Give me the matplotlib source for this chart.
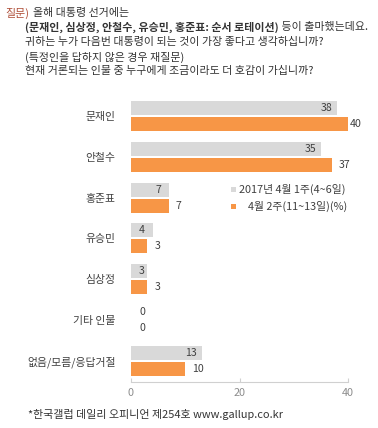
import matplotlib
matplotlib.use("Agg")
import matplotlib.pyplot as plt
from matplotlib.patches import Rectangle

plt.rcParams["font.family"] = ["Noto Sans CJK KR", "DejaVu Sans"]

# 데이터
categories = ["문재인", "안철수", "홍준표", "유승민", "심상정", "기타 인물", "없음/모름/응답거절"]
week1 = [38, 35, 7, 4, 3, 0, 13]
week2 = [40, 37, 7, 3, 3, 0, 10]
series_labels = ["2017년 4월 1주(4~6일)", "4월 2주(11~13일)(%)"]
x_ticks = [0, 20, 40]

W, H = 378, 428
GRAY = "#d9d9d9"
ORANGE = "#f79646"
TXT = "#404040"
FS = 7.8   # 항목/범례
VFS = 7.6  # 값 라벨
TFS = 7.9  # 질문 문구


def fx(px):
    return px / W


def fy(py):
    return 1 - py / H


fig = plt.figure(figsize=(W / 100, H / 100), dpi=100)
fig.patch.set_facecolor("white")

# 플롯 영역: x=0 -> 131px, x=40 -> 348px, 그룹 간격 약 40.8px
x0, x1 = 131, 348
step = 40.83
c0 = 116
ytop, ybot = -0.45, 6.515
top_px = c0 + ytop * step
bot_px = c0 + ybot * step
ax = fig.add_axes([fx(x0), fy(bot_px), (x1 - x0) / W, (bot_px - top_px) / H])
ax.set_xlim(0, 40)
ax.set_ylim(ybot, ytop)

bh = 14 / step
off = 8 / step
pos = list(range(len(categories)))
ax.barh([p - off for p in pos], week1, height=bh, color=GRAY)
ax.barh([p + off for p in pos], week2, height=bh, color=ORANGE)

ppu = (x1 - x0) / 40.0  # 단위당 픽셀
for p, v1, v2 in zip(pos, week1, week2):
    # 회색 막대: 안쪽 끝 (최소 위치 제한)
    cx = max(v1 * ppu - 10.5, 11) / ppu
    ax.text(cx, p - off, str(v1), ha="center", va="center", fontsize=VFS, color=TXT)
    # 주황 막대: 바깥쪽
    if v2 == 0:
        ax.text(11 / ppu, p + off, str(v2), ha="center", va="center", fontsize=VFS, color=TXT)
    else:
        lx = min(v2 * ppu + 7, 219) / ppu
        ax.text(lx, p + off, str(v2), ha="left", va="center", fontsize=VFS, color=TXT)

ax.set_yticks(pos)
ax.set_yticklabels(categories, fontsize=FS, color=TXT)
ax.tick_params(axis="y", length=0, pad=11)
ax.set_xticks(x_ticks)
ax.tick_params(axis="x", direction="in", length=3, color="#d0d0d0",
               labelsize=FS, labelcolor="#8c8c8c", pad=4)
for s in ["top", "right", "left"]:
    ax.spines[s].set_visible(False)
ax.spines["bottom"].set_color("#d0d0d0")
ax.spines["bottom"].set_linewidth(0.8)

# 범례
for (ly, col, lab, tx) in [(187, GRAY, series_labels[0], 239), (204, ORANGE, series_labels[1], 248)]:
    fig.add_artist(Rectangle((fx(231), fy(ly + 5)), 5 / W, 5 / H,
                             transform=fig.transFigure, color=col, lw=0))
    fig.text(fx(tx), fy(ly + 2.5), lab, fontsize=FS, color=TXT, va="center", ha="left")

# 질문 문구
fig.text(fx(5), fy(13), "질문)", fontsize=TFS, color="#b0503a", va="center")
fig.text(fx(33), fy(13), "올해 대통령 선거에는", fontsize=TFS, color="#333333", va="center")
t2 = fig.text(fx(25), fy(27), "(문재인, 심상정, 안철수, 유승민, 홍준표: 순서 로테이션)",
              fontsize=TFS, color="#333333", va="center", fontweight="bold")
ax.annotate(" 등이 출마했는데요.", xy=(1, 0.5), xycoords=t2, va="center", ha="left",
            fontsize=TFS, color="#333333", annotation_clip=False)
fig.text(fx(25), fy(42), "귀하는 누가 다음번 대통령이 되는 것이 가장 좋다고 생각하십니까?",
         fontsize=TFS, color="#333333", va="center")
fig.text(fx(25), fy(57), "(특정인을 답하지 않은 경우 재질문)",
         fontsize=TFS, color="#333333", va="center")
fig.text(fx(25), fy(71), "현재 거론되는 인물 중 누구에게 조금이라도 더 호감이 가십니까?",
         fontsize=TFS, color="#333333", va="center")

# 출처
fig.text(fx(28), fy(415), "*한국갤럽 데일리 오피니언 제254호 www.gallup.co.kr",
         fontsize=TFS, color="#333333", va="center")

fig.savefig("out.png", dpi=100)
